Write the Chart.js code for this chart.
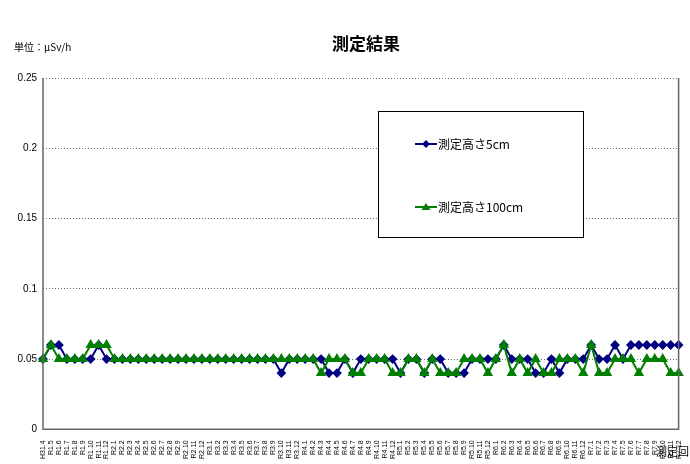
<!DOCTYPE html>
<html><head><meta charset="utf-8">
<script src="https://cdn.jsdelivr.net/npm/chart.js@4"></script>
<style>body{margin:0;background:#fff}#w{position:relative;width:690px;height:464px}</style>
</head><body><div id="w"><canvas id="c" width="690" height="464"></canvas></div>
<script>
const categories = ["H31.4","R1.5","R1.6","R1.7","R1.8","R1.9","R1.10","R1.11","R1.12",
"R2.1","R2.2","R2.3","R2.4","R2.5","R2.6","R2.7","R2.8","R2.9","R2.10","R2.11","R2.12",
"R3.1","R3.2","R3.3","R3.4","R3.5","R3.6","R3.7","R3.8","R3.9","R3.10","R3.11","R3.12",
"R4.1","R4.2","R4.3","R4.4","R4.5","R4.6","R4.7","R4.8","R4.9","R4.10","R4.11","R4.12",
"R5.1","R5.2","R5.3","R5.4","R5.5","R5.6","R5.7","R5.8","R5.9","R5.10","R5.11","R5.12",
"R6.1","R6.2","R6.3","R6.4","R6.5","R6.6","R6.7","R6.8","R6.9","R6.10","R6.11","R6.12",
"R7.1","R7.2","R7.3","R7.4","R7.5","R7.6","R7.7","R7.8","R7.9","R7.10","R7.11","R7.12"];
const h5 = [0.05,0.06,0.06,0.05,0.05,0.05,0.05,0.06,0.05,
0.05,0.05,0.05,0.05,0.05,0.05,0.05,0.05,0.05,0.05,0.05,0.05,
0.05,0.05,0.05,0.05,0.05,0.05,0.05,0.05,0.05,0.04,0.05,0.05,
0.05,0.05,0.05,0.04,0.04,0.05,0.04,0.05,0.05,0.05,0.05,0.05,
0.04,0.05,0.05,0.04,0.05,0.05,0.04,0.04,0.04,0.05,0.05,0.05,
0.05,0.06,0.05,0.05,0.05,0.04,0.04,0.05,0.04,0.05,0.05,0.05,
0.06,0.05,0.05,0.06,0.05,0.06,0.06,0.06,0.06,0.06,0.06,0.06];
const h100 = [0.05,0.06,0.05,0.05,0.05,0.05,0.06,0.06,0.06,
0.05,0.05,0.05,0.05,0.05,0.05,0.05,0.05,0.05,0.05,0.05,0.05,
0.05,0.05,0.05,0.05,0.05,0.05,0.05,0.05,0.05,0.05,0.05,0.05,
0.05,0.05,0.04,0.05,0.05,0.05,0.04,0.04,0.05,0.05,0.05,0.04,
0.04,0.05,0.05,0.04,0.05,0.04,0.04,0.04,0.05,0.05,0.05,0.04,
0.05,0.06,0.04,0.05,0.04,0.05,0.04,0.04,0.05,0.05,0.05,0.04,
0.06,0.04,0.04,0.05,0.05,0.05,0.04,0.05,0.05,0.05,0.04,0.04];
const yTicks = [0,0.05,0.1,0.15,0.2,0.25];
const yLabels = ["0","0.05","0.1","0.15","0.2","0.25"];
const F = "'Liberation Sans', Arial, sans-serif";
const J = "'Noto Sans CJK JP', sans-serif";
const extra = {id:'extra', afterDraw(ch){
  const c=ch.ctx, a=ch.chartArea; c.save();
  c.strokeStyle='#666'; c.lineWidth=1.5; c.beginPath();
  c.moveTo(a.left,a.top); c.lineTo(a.left,a.bottom); c.lineTo(a.right,a.bottom); c.lineTo(a.right,a.top); c.stroke();
  c.fillStyle='#000'; c.font="bold 17px "+J; c.textAlign='center'; c.textBaseline='middle';
  c.fillText('測定結果',366,44);
  c.font="10px "+J; c.textAlign='left'; c.fillText('単位：μSv/h',14,47);
  c.font="11px "+J; c.textAlign='right'; c.fillText('測定回',689,452);
  c.fillStyle='#fff'; c.strokeStyle='#000'; c.lineWidth=1;
  c.fillRect(378.5,111.5,205,126); c.strokeRect(378.5,111.5,205,126);
  const items=[[0,144],[1,207]];
  items.forEach(([i,y])=>{
    const ds=ch.data.datasets[i];
    c.strokeStyle=ds.borderColor; c.lineWidth=2;
    c.beginPath(); c.moveTo(415,y); c.lineTo(437,y); c.stroke();
    c.fillStyle=ds.borderColor; c.beginPath();
    if(i===0){c.moveTo(426,y-4);c.lineTo(430,y);c.lineTo(426,y+4);c.lineTo(422,y);}
    else{c.moveTo(426,y-4);c.lineTo(430.5,y+3);c.lineTo(421.5,y+3);}
    c.closePath(); c.fill();
    c.fillStyle='#000'; c.font="12px "+J; c.textAlign='left';
    c.fillText(ds.label,438,y);
  });
  c.restore();
}};
new Chart(document.getElementById('c'),{
  type:'line',
  data:{labels:categories,datasets:[
    {label:'測定高さ5cm',data:h5,order:1,borderColor:'#000080',backgroundColor:'#000080',borderWidth:2,pointStyle:'rectRot',pointRadius:3.5,tension:0},
    {label:'測定高さ100cm',data:h100,order:0,borderColor:'#008000',backgroundColor:'#008000',borderWidth:2,pointStyle:'triangle',pointRadius:4,tension:0}
  ]},
  options:{responsive:false,animation:false,
    layout:{padding:{left:0,right:10,top:78,bottom:2}},
    plugins:{legend:{display:false},tooltip:{enabled:false}},
    scales:{
      x:{offset:false,grid:{display:false},border:{display:false},
        ticks:{autoSkip:false,minRotation:90,maxRotation:90,font:{size:7,family:F},color:'#000',padding:3}},
      y:{min:0,max:0.25,afterBuildTicks:a=>{a.ticks=yTicks.map(v=>({value:v}));},
        afterFit:a=>{a.width=43;},
        grid:{color:'#444',lineWidth:0.8,tickLength:0},border:{display:false,dash:[1,2]},
        ticks:{font:{size:10,family:F},color:'#000',padding:6,callback:(v)=>yLabels[yTicks.indexOf(v)]}}
    }}
  ,plugins:[extra]
});
</script></body></html>
